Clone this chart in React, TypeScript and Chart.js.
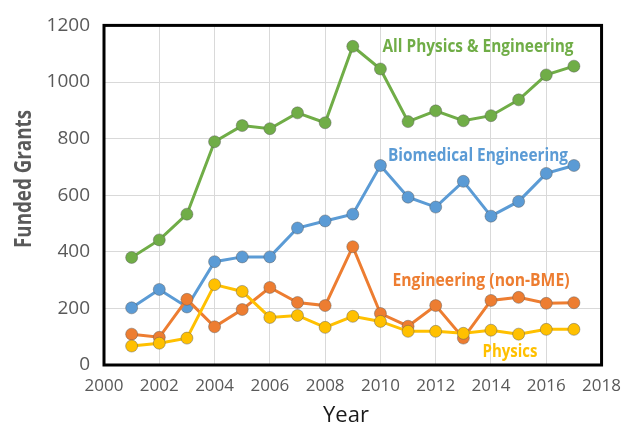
import React, { useEffect, useRef } from "react";
import { Chart, registerables } from "chart.js";

Chart.register(...registerables);

const years = [2001, 2002, 2003, 2004, 2005, 2006, 2007, 2008, 2009, 2010, 2011, 2012, 2013, 2014, 2015, 2016, 2017];
const allPhysEng = [380, 442, 533, 789, 846, 835, 891, 856, 1126, 1046, 860, 898, 863, 881, 937, 1025, 1056];
const biomedical = [202, 267, 205, 365, 382, 382, 484, 509, 533, 705, 593, 558, 649, 526, 578, 677, 705];
const engineering = [109, 98, 232, 135, 196, 274, 221, 210, 418, 182, 137, 210, 95, 228, 239, 218, 220];
const physics = [67, 77, 95, 284, 260, 168, 175, 133, 172, 154, 119, 119, 112, 123, 109, 126, 126];

const xTicks = [2000, 2002, 2004, 2006, 2008, 2010, 2012, 2014, 2016, 2018];
const yTicks = [0, 200, 400, 600, 800, 1000, 1200];

const GREEN = "#70AD47";
const BLUE = "#5B9BD5";
const ORANGE = "#ED7D31";
const YELLOW = "#FFC000";

const FONT = "'Open Sans', 'Noto Sans', sans-serif";

function pts(vals: number[]) {
  return years.map((y, i) => ({ x: y, y: vals[i] }));
}

export default function App() {
  const ref = useRef<HTMLCanvasElement | null>(null);

  useEffect(() => {
    document.body.style.margin = "0";
    const canvas = ref.current;
    if (!canvas) return;

    const mk = (label: string, vals: number[], color: string, order: number) => ({
      label,
      data: pts(vals),
      borderColor: color,
      backgroundColor: color,
      borderWidth: 3,
      pointRadius: 6,
      pointBorderWidth: 1,
      pointBorderColor: "rgba(90,90,90,0.45)",
      pointBackgroundColor: color,
      tension: 0,
      order,
    });

    const decor = {
      id: "decor",
      afterDraw(chart: any) {
        const ctx = chart.ctx;
        const a = chart.chartArea;
        ctx.save();
        ctx.strokeStyle = "#000";
        ctx.lineWidth = 3;
        ctx.strokeRect(a.left, a.top, a.right - a.left, a.bottom - a.top);

        const txt = (t: string, x: number, y: number, color: string, font: string, w: number, rot = 0) => {
          ctx.save();
          ctx.translate(x, y);
          ctx.rotate(rot);
          ctx.fillStyle = color;
          ctx.font = font;
          ctx.textAlign = "center";
          ctx.textBaseline = "middle";
          ctx.fillText(t, 0, 0, w);
          ctx.restore();
        };

        txt("All Physics & Engineering", 478, 47, GREEN, `bold 17px ${FONT}`, 191);
        txt("Biomedical Engineering", 478, 156, BLUE, `bold 17px ${FONT}`, 180);
        txt("Engineering (non-BME)", 481, 281, ORANGE, `bold 17px ${FONT}`, 177);
        txt("Physics", 510, 352, YELLOW, `bold 17px ${FONT}`, 55);
        txt("Funded Grants", 24, 179, "#595959", `bold 23px ${FONT}`, 138, -Math.PI / 2);
        txt("Year", 346, 416, "#1a1a1a", `22px ${FONT}`, 48);
        ctx.restore();
      },
    };

    const chart = new Chart(canvas, {
      type: "line",
      data: {
        datasets: [
          mk("Physics", physics, YELLOW, 0),
          mk("Engineering (non-BME)", engineering, ORANGE, 1),
          mk("Biomedical Engineering", biomedical, BLUE, 2),
          mk("All Physics & Engineering", allPhysEng, GREEN, 3),
        ],
      },
      options: {
        responsive: false,
        animation: false,
        layout: { padding: { top: 23, right: 26, left: 0, bottom: 0 } },
        plugins: { legend: { display: false }, tooltip: { enabled: false } },
        scales: {
          x: {
            type: "linear",
            min: xTicks[0],
            max: xTicks[xTicks.length - 1],
            afterBuildTicks: (s: any) => {
              s.ticks = xTicks.map((v) => ({ value: v }));
            },
            afterFit: (s: any) => {
              s.height = 62;
            },
            ticks: {
              callback: (v: any) => String(v),
              color: "#595959",
              font: { family: FONT, size: 17 },
              padding: 11,
              maxRotation: 0,
              autoSkip: false,
            },
            grid: { color: "#d9d9d9", lineWidth: 1, drawTicks: false },
            border: { display: false },
          },
          y: {
            min: yTicks[0],
            max: yTicks[yTicks.length - 1],
            afterBuildTicks: (s: any) => {
              s.ticks = yTicks.map((v) => ({ value: v }));
            },
            afterFit: (s: any) => {
              s.width = 104;
            },
            ticks: {
              callback: (v: any) => String(v),
              color: "#595959",
              font: { family: FONT, size: 19 },
              padding: 14,
              autoSkip: false,
            },
            grid: { color: "#d9d9d9", lineWidth: 1, drawTicks: false },
            border: { display: false },
          },
        },
      },
      plugins: [decor],
    } as any);

    return () => chart.destroy();
  }, []);

  return (
    <div style={{ position: "absolute", left: 0, top: 0, width: 632, height: 427, background: "#fff" }}>
      <canvas ref={ref} width={632} height={427} />
    </div>
  );
}
